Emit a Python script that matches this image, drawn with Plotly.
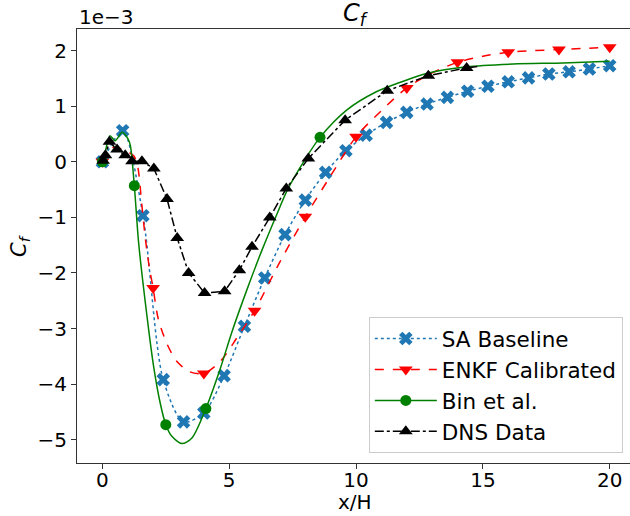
import plotly.graph_objects as go

# ---------------- data (C_f in units of 1e-3) ----------------
sa_x = [0.0, 0.8, 1.6, 2.4, 3.2, 4.0, 4.8, 5.6, 6.4, 7.2, 8.0, 8.8, 9.6, 10.4,
        11.2, 12.0, 12.8, 13.6, 14.4, 15.2, 16.0, 16.8, 17.6, 18.4, 19.2, 20.0]
sa_y = [0.0, 0.56, -0.97, -3.92, -4.68, -4.52, -3.85, -2.96, -2.09, -1.31, -0.69,
        -0.19, 0.20, 0.48, 0.71, 0.89, 1.04, 1.16, 1.27, 1.36, 1.44, 1.51, 1.58,
        1.62, 1.67, 1.73]

enkf_line_x = [0.0, 0.35, 0.7, 1.0, 1.25, 1.4, 1.55, 1.7, 1.85, 2.0, 2.2, 2.55,
               2.95, 3.45, 4.0, 4.65, 5.3, 6.0, 7.0, 8.0, 9.0, 10.0, 11.0, 12.0,
               13.0, 14.0, 15.0, 16.0, 17.0, 18.0, 19.0, 20.0]
enkf_line_y = [0.0, 0.25, 0.24, 0.18, 0.1, -0.1, -0.75, -1.4, -1.9, -2.27, -2.82,
               -3.28, -3.6, -3.78, -3.81, -3.59, -3.17, -2.68, -1.8, -0.99, -0.25,
               0.45, 0.92, 1.33, 1.6, 1.79, 1.9, 1.97, 2.0, 2.02, 2.04, 2.06]
enkf_mk_x = [0.0, 2.0, 4.0, 6.0, 8.0, 10.0, 12.0, 14.0, 16.0, 18.0, 20.0]
enkf_mk_y = [0.0, -2.27, -3.81, -2.68, -0.99, 0.45, 1.33, 1.79, 1.97, 2.02, 2.06]

bin_line_x = [0.0, 0.1, 0.3, 0.5, 0.78, 1.0, 1.1, 1.26, 1.43, 1.76, 2.02, 2.28,
              2.5, 2.74, 3.14, 3.53, 4.08, 4.65, 5.1, 5.7, 6.3, 6.9, 7.3, 8.0,
              8.58, 9.63, 10.8, 11.86, 12.78, 14.36, 16.2, 18.16, 20.0]
bin_line_y = [0.0, 0.15, 0.47, 0.38, 0.53, 0.42, 0.3, -0.43, -1.46, -2.78, -3.68,
              -4.34, -4.73, -4.94, -5.07, -4.97, -4.44, -3.72, -3.07, -2.3, -1.58,
              -0.92, -0.5, 0.05, 0.44, 0.93, 1.26, 1.45, 1.59, 1.71, 1.76, 1.78, 1.81]
bin_mk_x = [0.0, 1.26, 2.5, 4.08, 8.58]
bin_mk_y = [0.0, -0.43, -4.73, -4.44, 0.44]

dns_x = [0.03, 0.12, 0.28, 0.58, 0.9, 1.17, 1.56, 2.03, 2.55, 2.95, 3.4, 4.03,
         4.82, 5.4, 5.9, 6.6, 7.25, 8.12, 9.57, 11.23, 12.85, 14.36]
dns_y = [0.02, 0.12, 0.36, 0.22, 0.12, 0.01, 0.01, -0.12, -0.67, -1.37, -2.0,
         -2.36, -2.33, -1.95, -1.53, -1.0, -0.48, 0.06, 0.75, 1.28, 1.55, 1.69]
dns_line_end_x = [14.9]
dns_line_end_y = [1.72]

x_ticks = [0, 5, 10, 15, 20]
y_ticks = [-5, -4, -3, -2, -1, 0, 1, 2]

FONT = "DejaVu Sans"
BLUE = "#1f77b4"
RED = "#ff0000"
GREEN = "#008000"
BLACK = "#000000"

fig = go.Figure()

# SA Baseline
fig.add_trace(go.Scatter(x=sa_x, y=sa_y, mode="lines+markers",
                         line=dict(color=BLUE, width=1.5, dash="dot", shape="spline", smoothing=0.8),
                         marker=dict(symbol="x", size=12, color=BLUE),
                         name="SA Baseline", showlegend=True))
# ENKF
fig.add_trace(go.Scatter(x=enkf_line_x, y=enkf_line_y, mode="lines",
                         line=dict(color=RED, width=1.5, dash="dash", shape="spline", smoothing=0.8),
                         showlegend=False, hoverinfo="skip"))
fig.add_trace(go.Scatter(x=enkf_mk_x, y=enkf_mk_y, mode="markers",
                         marker=dict(symbol="triangle-down", size=12, color=RED),
                         showlegend=False))
fig.add_trace(go.Scatter(x=[None], y=[None], mode="lines+markers",
                         line=dict(color=RED, width=1.5, dash="dash"),
                         marker=dict(symbol="triangle-down", size=12, color=RED),
                         name="ENKF Calibrated"))
# Bin et al.
fig.add_trace(go.Scatter(x=bin_line_x, y=bin_line_y, mode="lines",
                         line=dict(color=GREEN, width=1.5, shape="spline", smoothing=0.8),
                         showlegend=False, hoverinfo="skip"))
fig.add_trace(go.Scatter(x=bin_mk_x, y=bin_mk_y, mode="markers",
                         marker=dict(symbol="circle", size=11, color=GREEN),
                         showlegend=False))
fig.add_trace(go.Scatter(x=[None], y=[None], mode="lines+markers",
                         line=dict(color=GREEN, width=1.5),
                         marker=dict(symbol="circle", size=11, color=GREEN),
                         name="Bin et al."))
# DNS
fig.add_trace(go.Scatter(x=dns_x + dns_line_end_x, y=dns_y + dns_line_end_y, mode="lines",
                         line=dict(color=BLACK, width=1.5, dash="dashdot"),
                         showlegend=False, hoverinfo="skip"))
fig.add_trace(go.Scatter(x=dns_x, y=dns_y, mode="markers",
                         marker=dict(symbol="triangle-up", size=12, color=BLACK),
                         showlegend=False))
fig.add_trace(go.Scatter(x=[None], y=[None], mode="lines+markers",
                         line=dict(color=BLACK, width=1.5, dash="dashdot"),
                         marker=dict(symbol="triangle-up", size=12, color=BLACK),
                         name="DNS Data"))

axis_common = dict(showgrid=False, zeroline=False, ticks="outside", ticklen=5,
                   tickwidth=1, tickcolor="#333", showline=True, linecolor="#333",
                   linewidth=1, tickfont=dict(family=FONT, size=20, color="black"))

fig.update_layout(
    width=630, height=516,
    margin=dict(l=77, r=0, t=29, b=53),
    paper_bgcolor="white", plot_bgcolor="white",
    font=dict(family=FONT, size=20, color="black"),
    xaxis=dict(range=[-1.0, 20.8], tickvals=x_ticks, mirror=True,
               ticklabelstandoff=-6, **axis_common),
    yaxis=dict(range=[-5.42, 2.39], tickvals=y_ticks, mirror=False, **axis_common),
    legend=dict(x=0.987, y=0.023, xanchor="right", yanchor="bottom",
                bgcolor="rgba(255,255,255,0.8)", bordercolor="#cccccc", borderwidth=1,
                itemwidth=62,
                font=dict(family=FONT, size=21.5, color="black")),
    showlegend=True,
    annotations=[
        dict(text="<i>C<sub>f</sub></i>", x=0.505, y=1, xref="paper", yref="paper",
             xanchor="center", yanchor="bottom", yshift=-3, showarrow=False,
             font=dict(family=FONT, size=24)),
        dict(text="1e\u22123", x=0, y=1, xref="paper", yref="paper",
             xanchor="left", yanchor="bottom", yshift=-2, showarrow=False,
             font=dict(family=FONT, size=20)),
        dict(text="<i>C<sub>f</sub></i>", x=-0.103, y=0.5, xref="paper", yref="paper",
             xanchor="center", yanchor="middle", textangle=-90, showarrow=False,
             font=dict(family=FONT, size=21)),
        dict(text="x/H", x=0.503, y=-0.091, xref="paper", yref="paper",
             xanchor="center", yanchor="middle", showarrow=False,
             font=dict(family=FONT, size=20)),
    ],
)

fig.write_html("out.html")
